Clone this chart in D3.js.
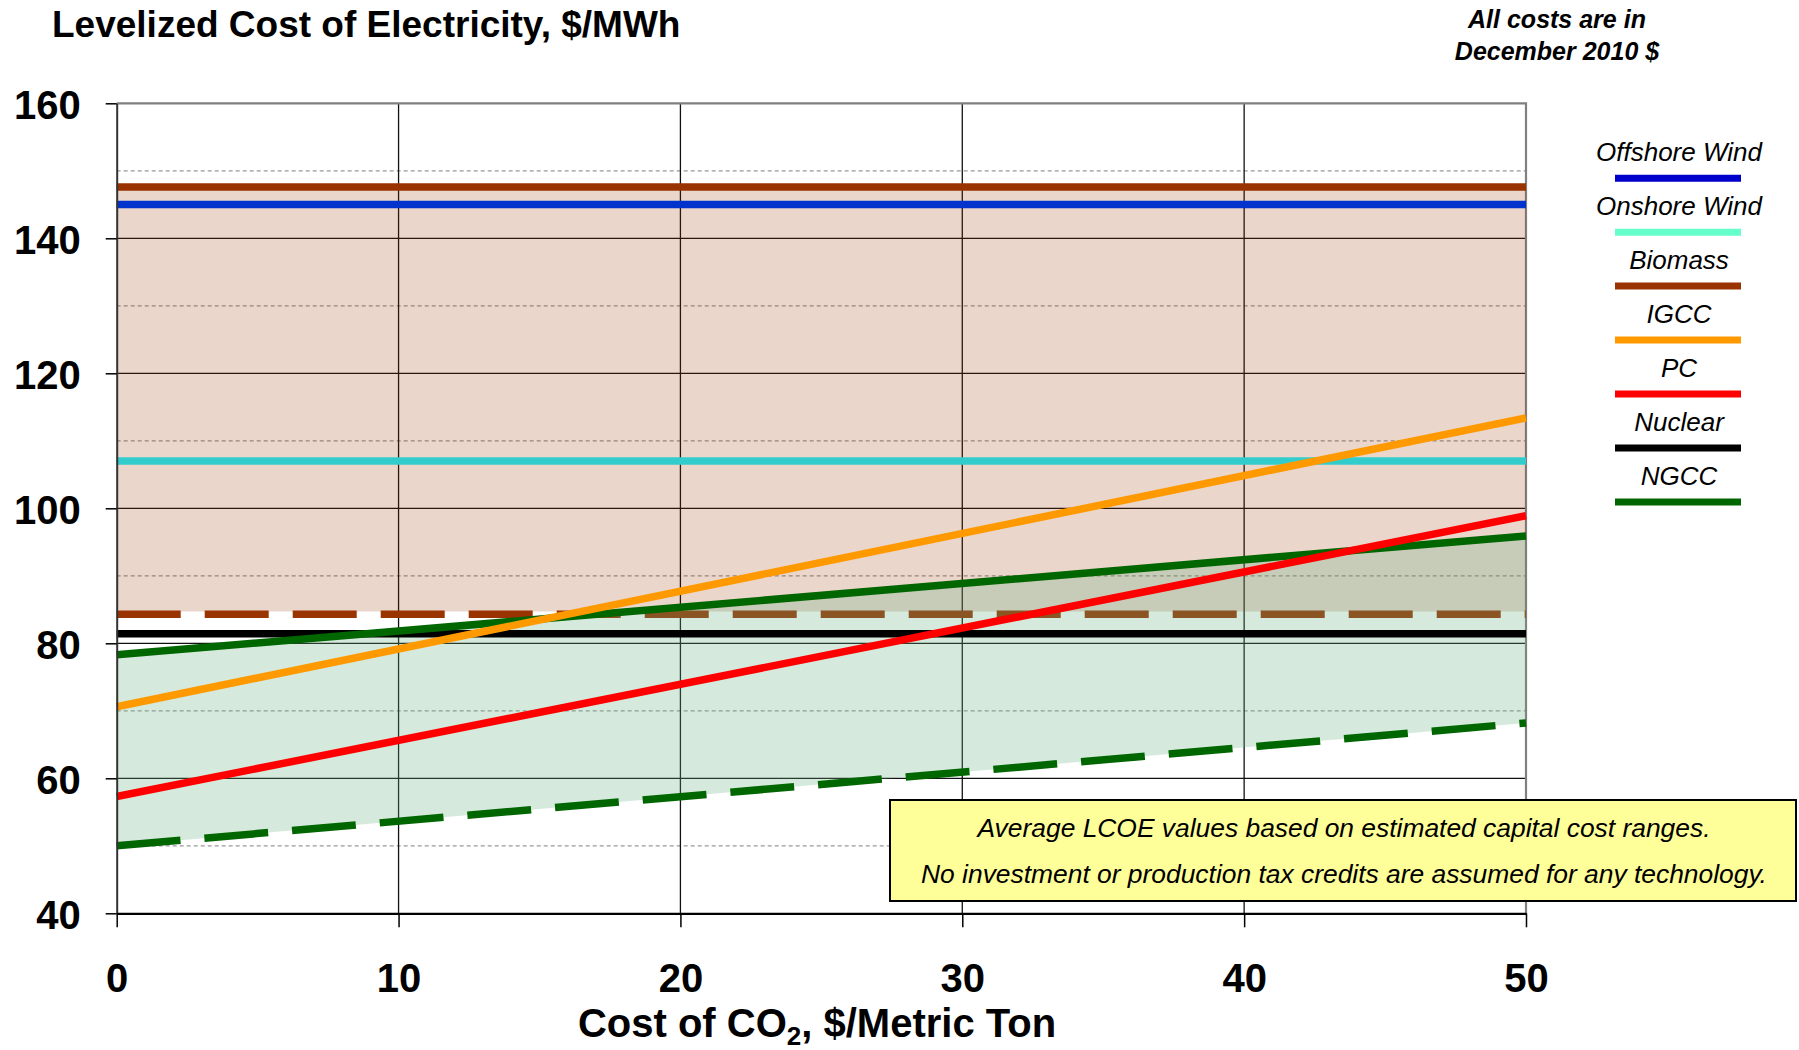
<!DOCTYPE html>
<html>
<head>
<meta charset="utf-8">
<script src="https://cdn.jsdelivr.net/npm/d3@7"></script>
<style>
body { margin: 0; background: #fff; }
svg { display: block; font-family: "Liberation Sans", Arial, sans-serif; }
</style>
</head>
<body>
<svg></svg>
<script>
const size = {w: 1799, h: 1050};
const plot = {l: 116.7, r: 1526, t: 103.3, b: 913.3};

// values ($/MWh at CO2 cost 0 and 50 $/t)
const co2Cost = [0, 50];
const offshoreWind = [145.0, 145.0];
const onshoreWind = [107.0, 107.0];
const biomassHigh = [147.6, 147.6];
const biomassLow = [84.3, 84.3];
const igcc = [70.6, 113.4];
const pc = [57.3, 98.9];
const nuclear = [81.4, 81.4];
const ngccHigh = [78.3, 95.9];
const ngccLow = [50.0, 68.2];

// shaded ranges
const biomassBandLow = [84.7, 84.7];
const biomassBandHigh = [147.6, 147.6];

const xTicks = [0, 10, 20, 30, 40, 50];
const yTicks = [40, 60, 80, 100, 120, 140, 160];
const yMidGrid = [50, 70, 90, 110, 130, 150];

const legendNames = ['Offshore Wind', 'Onshore Wind', 'Biomass', 'IGCC', 'PC', 'Nuclear', 'NGCC'];
const legendColors = ['#0000cc', '#66ffcc', '#993300', '#ff9900', '#ff0000', '#000000', '#006600'];

const notes = ['Average LCOE values based on estimated capital cost ranges.',
               'No investment or production tax credits are assumed for any technology.'];

const svg = d3.select('svg')
    .attr('width', size.w)
    .attr('height', size.h);

const x = d3.scaleLinear().domain([0, 50]).range([plot.l, plot.r]);
const y = d3.scaleLinear().domain([40, 160]).range([plot.b, plot.t]);

const pts = vals => vals.map((v, i) => [co2Cost[i], v]);
const line = d3.line().x(d => x(d[0])).y(d => y(d[1]));
const band = d3.area().x(d => x(d.x)).y0(d => y(d.lo)).y1(d => y(d.hi));

// --------- GRID ----------
const gridG = svg.append('g').classed('grid', true);
gridG.selectAll('line.mid')
    .data(yMidGrid)
    .join('line')
    .attr('x1', plot.l).attr('x2', plot.r)
    .attr('y1', d => y(d)).attr('y2', d => y(d))
    .attr('stroke', '#999').attr('stroke-width', 1.2)
    .attr('stroke-dasharray', '4,3');
gridG.selectAll('line.h')
    .data(yTicks.slice(1, -1))
    .join('line')
    .attr('x1', plot.l).attr('x2', plot.r)
    .attr('y1', d => y(d)).attr('y2', d => y(d))
    .attr('stroke', '#111').attr('stroke-width', 1.3);
gridG.append('g').selectAll('line')
    .data(xTicks.slice(1, -1))
    .join('line')
    .attr('x1', d => x(d)).attr('x2', d => x(d))
    .attr('y1', plot.t).attr('y2', plot.b)
    .attr('stroke', '#111').attr('stroke-width', 1.3);

// frame (top and right)
svg.append('path')
    .attr('d', `M${plot.l},${plot.t}H${plot.r}V${plot.b}`)
    .attr('fill', 'none').attr('stroke', '#808080').attr('stroke-width', 2.2);

// --------- BANDS + LINES ----------
const dataG = svg.append('g').classed('series', true);

dataG.append('path')
    .datum(co2Cost.map((c, i) => ({x: c, lo: biomassBandLow[i], hi: biomassBandHigh[i]})))
    .attr('d', band)
    .attr('fill', 'rgba(153,51,0,0.2)');

function drawLine(vals, color, dash) {
    dataG.append('path')
        .datum(pts(vals))
        .attr('d', line)
        .attr('fill', 'none')
        .attr('stroke', color)
        .attr('stroke-width', 7.5)
        .attr('stroke-dasharray', dash || null);
}

drawLine(biomassHigh, '#993300');
drawLine(offshoreWind, '#0033cc');
drawLine(onshoreWind, '#33cccc');
drawLine(biomassLow, '#993300', '64,24');

dataG.append('path')
    .datum(co2Cost.map((c, i) => ({x: c, lo: ngccLow[i], hi: ngccHigh[i]})))
    .attr('d', band)
    .attr('fill', 'rgba(100,176,130,0.27)');

drawLine(nuclear, '#000000');
drawLine(ngccHigh, '#006600');
drawLine(ngccLow, '#006600', '64,24');
drawLine(igcc, '#ff9900');
drawLine(pc, '#ff0000');

// --------- AXES ----------
const yAxisG = svg.append('g')
    .attr('transform', `translate(${plot.l},0)`)
    .call(d3.axisLeft(y).tickValues(yTicks).tickSize(11).tickSizeOuter(0).tickPadding(25));
yAxisG.select('.domain').attr('stroke', '#333').attr('stroke-width', 2);
yAxisG.selectAll('.tick line').attr('stroke', '#000').attr('stroke-width', 1.5);
yAxisG.selectAll('.tick text')
    .attr('dy', '0.38em')
    .style('font-size', '40px').style('font-weight', 'bold')
    .style('font-family', '"Liberation Sans", Arial, sans-serif').attr('fill', '#000');

const xAxisG = svg.append('g')
    .attr('transform', `translate(0,${plot.b})`)
    .call(d3.axisBottom(x).tickValues(xTicks).tickSize(14).tickSizeOuter(0).tickPadding(36));
xAxisG.select('.domain').attr('stroke', '#000').attr('stroke-width', 2.2);
xAxisG.selectAll('.tick line').attr('stroke', '#000').attr('stroke-width', 1.5);
xAxisG.selectAll('.tick text')
    .style('font-size', '40px').style('font-weight', 'bold')
    .style('font-family', '"Liberation Sans", Arial, sans-serif').attr('fill', '#000');

// x axis title with subscript
const xTitle = svg.append('text')
    .attr('x', 817).attr('y', 1037)
    .attr('text-anchor', 'middle')
    .style('font-size', '40px').style('font-weight', 'bold');
xTitle.append('tspan').text('Cost of CO');
xTitle.append('tspan').text('2').attr('dy', 8).style('font-size', '26px');
xTitle.append('tspan').text(', $/Metric Ton').attr('dy', -8);

// chart title
svg.append('text')
    .attr('x', 52).attr('y', 37)
    .style('font-size', '37px').style('font-weight', 'bold')
    .text('Levelized Cost of Electricity, $/MWh');

// dollar-year note
svg.selectAll('text.year')
    .data(['All costs are in', 'December 2010 $'])
    .join('text')
    .attr('x', 1557)
    .attr('y', (d, i) => 28 + i * 31.6)
    .attr('text-anchor', 'middle')
    .style('font-size', '25px').style('font-weight', 'bold').style('font-style', 'italic')
    .text(d => d);

// --------- LEGEND ----------
const legendG = svg.append('g').classed('legend', true);
const legendItem = legendG.selectAll('g')
    .data(legendNames)
    .join('g')
    .attr('transform', (d, i) => `translate(0,${i * 53.95})`);
legendItem.append('text')
    .attr('x', 1679).attr('y', 161.3)
    .attr('text-anchor', 'middle')
    .style('font-size', '26px').style('font-style', 'italic')
    .text(d => d);
legendItem.append('line')
    .attr('x1', 1615).attr('x2', 1741)
    .attr('y1', 178.2).attr('y2', 178.2)
    .attr('stroke', (d, i) => legendColors[i])
    .attr('stroke-width', 7);

// --------- NOTE BOX ----------
svg.append('rect')
    .attr('x', 890).attr('y', 800)
    .attr('width', 906).attr('height', 101)
    .attr('fill', '#ffff99')
    .attr('stroke', '#000').attr('stroke-width', 2);
svg.selectAll('text.note')
    .data(notes)
    .join('text')
    .attr('x', 1344)
    .attr('y', (d, i) => 837 + i * 46)
    .attr('text-anchor', 'middle')
    .style('font-size', '26.4px').style('font-style', 'italic')
    .text(d => d);
</script>
</body>
</html>
